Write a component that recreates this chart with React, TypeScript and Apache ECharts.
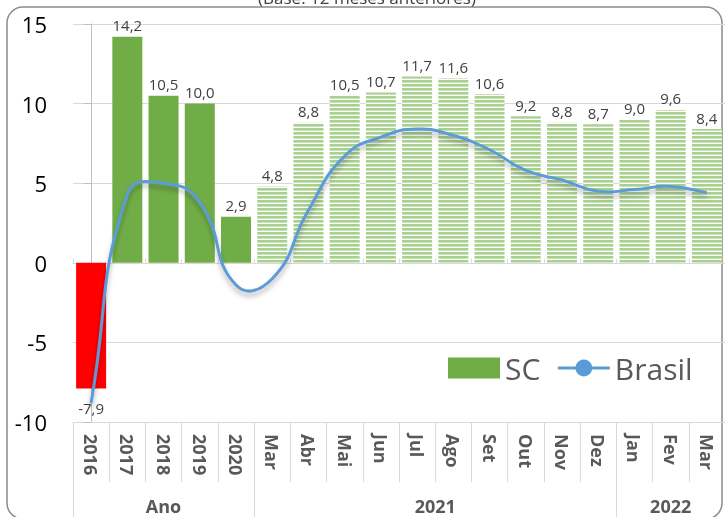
import React, { useEffect, useRef } from 'react';
import * as echarts from 'echarts';

const categories = ['2016', '2017', '2018', '2019', '2020', 'Mar', 'Abr', 'Mai', 'Jun', 'Jul', 'Ago', 'Set', 'Out', 'Nov', 'Dez', 'Jan', 'Fev', 'Mar'];
const scValues = [-7.9, 14.2, 10.5, 10.0, 2.9, 4.8, 8.8, 10.5, 10.7, 11.7, 11.6, 10.6, 9.2, 8.8, 8.7, 9.0, 9.6, 8.4];
const brasilValues = [-8.8, 4.3, 5.0, 3.8, -1.4, -1.0, 3.3, 6.7, 7.9, 8.4, 8.0, 7.1, 5.8, 5.2, 4.5, 4.6, 4.8, 4.4];
const groupLabels = ['Ano', '2021', '2022'];
const groupCenters = [2, 9.5, 16];
const groupBounds = [-0.5, 4.5, 14.5, 17.5];
const annualCount = 5;
const titleText = '(Base: 12 meses anteriores)';

const FONT = '"Open Sans", "Noto Sans", sans-serif';
const LINE_COLOR = '#5b9bd5';

export default function App() {
  const ref = useRef<HTMLDivElement>(null);
  useEffect(() => {
    if (!ref.current) return;
    const chart = echarts.init(ref.current, undefined, { renderer: 'svg' });

    const c = document.createElement('canvas');
    c.width = 4;
    c.height = 4;
    const ctx = c.getContext('2d')!;
    ctx.fillStyle = '#ffffff';
    ctx.fillRect(0, 0, 4, 4);
    ctx.fillStyle = '#a9d18e';
    ctx.fillRect(0, 0, 4, 2);
    ctx.fillStyle = '#c8e2b7';
    ctx.fillRect(0, 2, 4, 1);
    const pattern: any = { image: c, repeat: 'repeat', imageWidth: 4, imageHeight: 4 };

    const fmt = (v: number) => v.toFixed(1).replace('.', ',');

    const barData = scValues.map((v, i) => {
      let color: any = '#70ad47';
      if (v < 0) color = '#ff0000';
      else if (i >= annualCount) color = pattern;
      return {
        value: v,
        itemStyle: { color },
        label: v < 0 ? { position: 'bottom', distance: 12 } : undefined,
      };
    });

    const SMOOTH = 0.5;
    const curveRender = (params: any, api: any) => {
      if (params.dataIndex !== 0) return { type: 'group', children: [] };
      const pts: number[][] = brasilValues.map((v, i) => api.coord([i, v]));
      const n = pts.length;
      const cpIn: number[][] = [];
      const cpOut: number[][] = [];
      for (let i = 0; i < n; i++) {
        const p = pts[i];
        const prev = pts[i - 1] || p;
        const next = pts[i + 1] || p;
        const vx = next[0] - prev[0];
        const vy = next[1] - prev[1];
        const lp = Math.hypot(p[0] - prev[0], p[1] - prev[1]);
        const ln = Math.hypot(next[0] - p[0], next[1] - p[1]);
        const r = lp + ln > 0 ? ln / (lp + ln) : 0.5;
        cpOut[i] = [p[0] + vx * SMOOTH * r, p[1] + vy * SMOOTH * r];
        cpIn[i] = [p[0] - vx * SMOOTH * (1 - r), p[1] - vy * SMOOTH * (1 - r)];
      }
      let d = `M${pts[0][0]},${pts[0][1]}`;
      for (let i = 0; i < n - 1; i++) {
        const a = cpOut[i];
        const b = cpIn[i + 1];
        const e = pts[i + 1];
        d += ` C${a[0]},${a[1]} ${b[0]},${b[1]} ${e[0]},${e[1]}`;
      }
      return {
        type: 'path',
        shape: { pathData: d },
        style: {
          fill: 'none',
          stroke: LINE_COLOR,
          lineWidth: 3,
          shadowColor: 'rgba(0,0,0,0.3)',
          shadowBlur: 5,
          shadowOffsetY: 4,
        },
        silent: true,
      };
    };

    const option: any = {
      animation: false,
      graphic: [
        {
          type: 'rect',
          shape: { x: 7, y: 7, width: 715, height: 512, r: 16 },
          style: { fill: 'none', stroke: '#8c8c8c', lineWidth: 1.5 },
          silent: true,
          z: -1,
        },
        {
          type: 'text',
          x: 367,
          y: 6,
          style: {
            text: titleText,
            fontSize: 17,
            fontFamily: FONT,
            fill: '#404040',
            textAlign: 'center',
            textVerticalAlign: 'bottom',
          },
        },
      ],
      grid: { left: 73, top: 24, width: 654, height: 398, containLabel: false },
      legend: {
        left: 448,
        top: 353,
        padding: 0,
        itemWidth: 52,
        itemHeight: 21,
        itemGap: 16,
        textStyle: { fontSize: 30, color: '#595959', fontFamily: FONT },
        data: [
          { name: 'SC', icon: 'rect' },
          { name: 'Brasil', lineStyle: { opacity: 1, width: 3, color: LINE_COLOR } },
        ],
      },
      xAxis: [
        {
          type: 'category',
          data: categories,
          position: 'bottom',
          axisLine: { onZero: false, lineStyle: { color: '#d9d9d9' } },
          axisTick: { show: true, interval: 0, length: 60, lineStyle: { color: '#d9d9d9' } },
          axisLabel: {
            interval: 0,
            rotate: -90,
            margin: 12,
            fontSize: 18,
            fontWeight: 'bold',
            color: '#595959',
            fontFamily: FONT,
          },
          splitLine: { show: false },
        },
        {
          type: 'value',
          min: -0.5,
          max: 17.5,
          position: 'bottom',
          axisLine: { show: false, onZero: false },
          axisTick: { show: true, customValues: groupBounds, length: 100, lineStyle: { color: '#d9d9d9' } },
          axisLabel: {
            customValues: groupCenters,
            formatter: (v: number) => {
              const idx = groupCenters.indexOf(v);
              return idx >= 0 ? groupLabels[idx] : '';
            },
            margin: 75,
            fontSize: 18,
            fontWeight: 'bold',
            color: '#595959',
            fontFamily: FONT,
          },
          splitLine: { show: false },
        },
        {
          type: 'category',
          data: categories,
          position: 'bottom',
          axisLine: { onZero: true, lineStyle: { color: '#d9d9d9' } },
          axisTick: { show: true, inside: true, interval: 0, length: 4, lineStyle: { color: '#d9d9d9' } },
          axisLabel: { show: false },
          splitLine: { show: false },
        },
      ],
      yAxis: {
        type: 'value',
        min: -10,
        max: 15,
        interval: 5,
        axisLine: { show: true, lineStyle: { color: '#bfbfbf' } },
        axisTick: { show: true, length: 8, lineStyle: { color: '#bfbfbf' } },
        axisLabel: { fontSize: 22, color: '#000000', margin: 26, fontFamily: FONT },
        splitLine: { show: true, lineStyle: { color: '#d9d9d9' } },
      },
      series: [
        {
          name: 'SC',
          type: 'bar',
          xAxisIndex: 0,
          data: barData,
          barWidth: 30,
          itemStyle: { color: '#70ad47' },
          label: {
            show: true,
            position: 'top',
            distance: 4,
            fontSize: 15,
            color: '#404040',
            fontFamily: FONT,
            formatter: (p: any) => fmt(p.value),
          },
        },
        {
          name: 'Brasil',
          type: 'line',
          xAxisIndex: 0,
          data: brasilValues,
          symbol: 'circle',
          symbolSize: 7,
          showSymbol: false,
          itemStyle: { color: LINE_COLOR },
          lineStyle: { color: LINE_COLOR, width: 3, opacity: 0 },
          silent: true,
          z: 1,
        },
        {
          name: 'BrasilCurve',
          type: 'custom',
          xAxisIndex: 0,
          data: brasilValues.map((v, i) => [i, v]),
          encode: { x: 0, y: 1 },
          renderItem: curveRender,
          silent: true,
          z: 3,
        },
      ],
    };
    chart.setOption(option);
    return () => chart.dispose();
  }, []);
  return <div ref={ref} style={{ position: 'fixed', left: 0, top: 0, width: 725, height: 517 }} />;
}
